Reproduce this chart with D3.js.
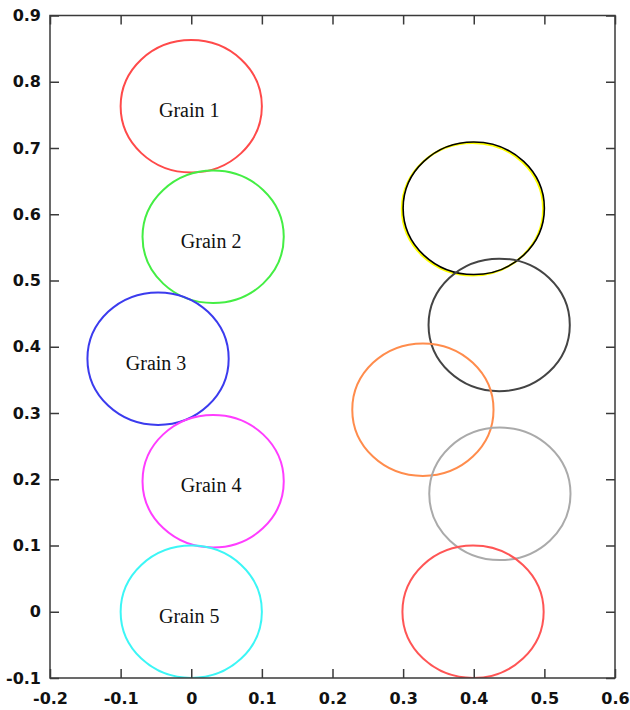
<!DOCTYPE html>
<html>
<head>
<meta charset="utf-8">
<script src="https://cdn.jsdelivr.net/npm/d3@7"></script>
<style>
  body { margin: 0; background: #fff; }
  svg { display: block; }
</style>
</head>
<body>
<svg id="chart"></svg>
<script>
// grain circles (data units), radius 0.1
const grainNames = ["Grain 1", "Grain 2", "Grain 3", "Grain 4", "Grain 5", "", "", "", "", ""];
const grainX = [0, 0.031, -0.047, 0.031, 0, 0.40, 0.436, 0.328, 0.437, 0.399];
const grainY = [0.763, 0.566, 0.382, 0.197, 0, 0.609, 0.433, 0.305, 0.178, 0];
const grainColors = ["#ff4a4a", "#44ee44", "#3b3bee", "#ff3dff", "#3cf6f6", "#000000", "#444444", "#ff8c4c", "#aaaaaa", "#ff5555"];
const grainR = 0.1;
const xTicks = [-0.2, -0.1, 0, 0.1, 0.2, 0.3, 0.4, 0.5, 0.6];
const yTicks = [-0.1, 0, 0.1, 0.2, 0.3, 0.4, 0.5, 0.6, 0.7, 0.8, 0.9];

const width = 630, height = 710;
const margin = { left: 50, right: 15, top: 15.5, bottom: 32 };

const svg = d3.select("#chart")
    .attr("width", width)
    .attr("height", height);

const x = d3.scaleLinear().domain([-0.2, 0.6]).range([margin.left, width - margin.right]);
const y = d3.scaleLinear().domain([-0.1, 0.9]).range([height - margin.bottom, margin.top]);

const grains = grainX.map((gx, i) => ({ name: grainNames[i], x: gx, y: grainY[i], color: grainColors[i] }));

svg.append("clipPath").attr("id", "plotclip")
    .append("rect")
    .attr("x", x(-0.2)).attr("y", y(0.9))
    .attr("width", x(0.6) - x(-0.2)).attr("height", y(-0.1) - y(0.9));

const plot = svg.append("g").attr("clip-path", "url(#plotclip)");
const rx = x(grainR) - x(0), ry = y(0) - y(grainR);

// yellow under-line for the black circle
plot.selectAll(".under")
    .data(grains.filter(d => d.color === "#000000"))
    .enter().append("ellipse")
    .attr("cx", d => x(d.x) - 1.2)
    .attr("cy", d => y(d.y) + 0.8)
    .attr("rx", rx).attr("ry", ry)
    .attr("fill", "none")
    .attr("stroke", "#ffff00")
    .attr("stroke-width", 2.2);

plot.selectAll(".grain")
    .data(grains)
    .enter().append("ellipse")
    .attr("class", "grain")
    .attr("cx", d => x(d.x))
    .attr("cy", d => y(d.y))
    .attr("rx", rx).attr("ry", ry)
    .attr("fill", "none")
    .attr("stroke", d => d.color)
    .attr("stroke-width", d => d.color === "#000000" ? 1.6 : 2);

plot.selectAll(".label")
    .data(grains.filter(d => d.name))
    .enter().append("text")
    .attr("x", d => x(d.x) - 2)
    .attr("y", d => y(d.y) + 11)
    .attr("text-anchor", "middle")
    .attr("font-family", "Liberation Serif, Times New Roman, serif")
    .attr("font-size", "20px")
    .attr("fill", "#111")
    .text(d => d.name);

// frame and mirrored inward ticks
const frameColor = "#3a3a3a";
svg.append("rect")
    .attr("x", x(-0.2)).attr("y", y(0.9))
    .attr("width", x(0.6) - x(-0.2)).attr("height", y(-0.1) - y(0.9))
    .attr("fill", "none").attr("stroke", frameColor).attr("stroke-width", 1.5);

const tickLen = 9;
const fmt = d => String(d);
const tickStyle = g => {
    g.select(".domain").remove();
    g.selectAll(".tick line").attr("stroke", frameColor).attr("stroke-width", 1.5);
    g.selectAll(".tick text")
        .attr("font-family", "DejaVu Sans, Verdana, sans-serif")
        .attr("font-size", "16px")
        .attr("font-weight", "bold")
        .attr("fill", "#111");
};

svg.append("g")
    .attr("transform", `translate(0,${y(-0.1)})`)
    .call(d3.axisBottom(x).tickValues(xTicks).tickSize(-tickLen).tickPadding(15).tickFormat(fmt))
    .call(tickStyle);

svg.append("g")
    .attr("transform", `translate(0,${y(0.9)})`)
    .call(d3.axisTop(x).tickValues(xTicks).tickSize(-tickLen).tickFormat(""))
    .call(tickStyle);

svg.append("g")
    .attr("transform", `translate(${x(-0.2)},0)`)
    .call(d3.axisLeft(y).tickValues(yTicks).tickSize(-tickLen).tickPadding(9).tickFormat(fmt))
    .call(tickStyle);

svg.append("g")
    .attr("transform", `translate(${x(0.6)},0)`)
    .call(d3.axisRight(y).tickValues(yTicks).tickSize(-tickLen).tickFormat(""))
    .call(tickStyle);
</script>
</body>
</html>
